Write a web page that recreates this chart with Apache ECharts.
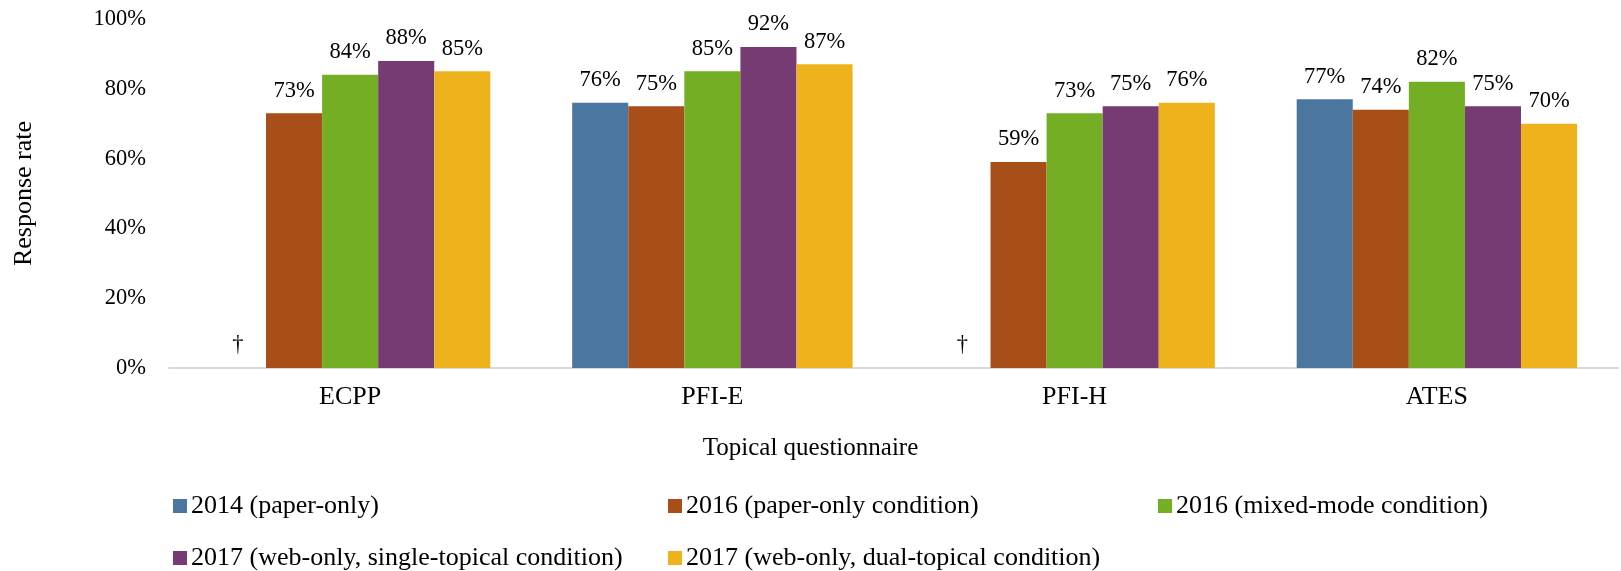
<!DOCTYPE html>
<html>
<head>
<meta charset="utf-8">
<script src="https://cdn.jsdelivr.net/npm/echarts@6/dist/echarts.min.js"></script>
<style>
  html, body { margin: 0; padding: 0; background: #fff; }
  #chart { width: 1621px; height: 571px; }
</style>
</head>
<body>
<div id="chart"></div>
<script>
// categories and series (response rate, %); 0 = not administered (shown as †)
const categories = ['ECPP', 'PFI-E', 'PFI-H', 'ATES'];
const seriesNames = [
  '2014 (paper-only)',
  '2016 (paper-only condition)',
  '2016 (mixed-mode condition)',
  '2017 (web-only, single-topical condition)',
  '2017 (web-only, dual-topical condition)'
];
const paper2014 = [0, 76, 0, 77];
const paper2016 = [73, 75, 59, 74];
const mixed2016 = [84, 85, 73, 82];
const webSingle2017 = [88, 92, 75, 75];
const webDual2017 = [85, 87, 76, 70];
const yTicks = [0, 20, 40, 60, 80, 100];

const colors = ['#4B76A0', '#A84E18', '#74AE25', '#773B73', '#EEB21D'];
const serif = '"Liberation Serif", "DejaVu Serif", serif';

const chart = echarts.init(document.getElementById('chart'));

const makeSeries = (name, data, color) => ({
  name: name,
  type: 'bar',
  data: data,
  barGap: '0%',
  barCategoryGap: '22.6%',
  itemStyle: { color: color },
  label: {
    show: true,
    position: 'top',
    distance: 11,
    fontFamily: serif,
    fontSize: 22.5,
    color: '#000',
    formatter: p => (p.value === 0 ? '†' : p.value + '%')
  }
});

// legend laid out as a 3-column grid, one legend per item
const legendCols = [173, 668, 1158];
const legendRows = [493, 545];
const legendSlots = [[0, 0], [1, 0], [2, 0], [0, 1], [1, 1]];
const legends = seriesNames.map((name, i) => ({
  left: legendCols[legendSlots[i][0]],
  top: legendRows[legendSlots[i][1]],
  data: [name],
  itemWidth: 14,
  itemHeight: 14,
  icon: 'rect',
  selectedMode: false,
  padding: 0,
  textStyle: { fontFamily: serif, fontSize: 26, color: '#000', padding: [0, 0, 0, -1] }
}));

chart.setOption({
  animation: false,
  textStyle: { fontFamily: serif },
  title: {
    text: 'Topical questionnaire',
    left: 'center',
    top: 431,
    textStyle: { fontFamily: serif, fontSize: 25, fontWeight: 'normal', color: '#000' }
  },
  legend: legends,
  grid: { left: 169, right: 3, top: 19, bottom: 203 },
  xAxis: {
    type: 'category',
    data: categories,
    axisLine: { lineStyle: { color: '#D9D9D9', width: 2 } },
    axisTick: { show: false },
    axisLabel: { fontFamily: serif, fontSize: 26, color: '#000', margin: 16 }
  },
  yAxis: {
    type: 'value',
    min: 0,
    max: 100,
    interval: 20,
    name: 'Response rate',
    nameLocation: 'middle',
    nameGap: 132,
    nameTextStyle: { fontFamily: serif, fontSize: 26, color: '#000' },
    axisLine: { show: false },
    axisTick: { show: false },
    splitLine: { show: false },
    axisLabel: {
      fontFamily: serif,
      fontSize: 22.5,
      color: '#000',
      margin: 23,
      formatter: v => (yTicks.includes(v) ? v + '%' : '')
    }
  },
  series: [
    makeSeries(seriesNames[0], paper2014, colors[0]),
    makeSeries(seriesNames[1], paper2016, colors[1]),
    makeSeries(seriesNames[2], mixed2016, colors[2]),
    makeSeries(seriesNames[3], webSingle2017, colors[3]),
    makeSeries(seriesNames[4], webDual2017, colors[4])
  ]
});
</script>
</body>
</html>
